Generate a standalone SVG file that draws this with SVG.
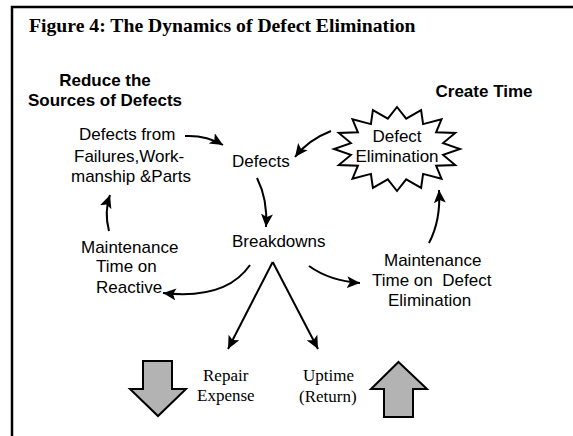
<svg xmlns="http://www.w3.org/2000/svg" width="573" height="436" viewBox="0 0 573 436">
<style>
.lbl{font-family:"Liberation Sans",Arial,sans-serif;font-size:17px;fill:#000}
.hdr{font-family:"Liberation Sans",Arial,sans-serif;font-size:17px;font-weight:bold;fill:#000}
.ser{font-family:"Liberation Serif","Times New Roman",serif;font-size:17px;fill:#000}
.con{fill:none;stroke:#000;stroke-width:2}
.blk{fill:#b3b3b3;stroke:#000;stroke-width:2;stroke-linejoin:miter}
</style>
<defs>
<marker id="ah" markerUnits="userSpaceOnUse" markerWidth="16" markerHeight="14" refX="13" refY="6" orient="auto">
<path d="M0,0 L13,6 L0,12 L3,6 z" fill="#000"/>
</marker>
</defs>
<rect width="573" height="436" fill="#fff"/>
<path d="M12,437 L12,7 L574,7" fill="none" stroke="#000" stroke-width="2.5"/>
<text x="29" y="32" font-family="Liberation Serif,'Times New Roman',serif" font-size="19.7" font-weight="bold">Figure 4: The Dynamics of Defect Elimination</text>

<g id="reduce-heading"><text class="hdr" x="105" y="86" text-anchor="middle">Reduce the</text><text class="hdr" x="105" y="106" text-anchor="middle">Sources of Defects</text></g>
<g id="create-heading"><text class="hdr" x="484" y="97" text-anchor="middle">Create Time</text></g>

<g id="defects-from"><text class="lbl" x="79" y="140">Defects from</text><text class="lbl" x="74" y="162">Failures,Work-</text><text class="lbl" x="71" y="182">manship &amp;Parts</text></g>
<g id="defects"><text class="lbl" x="232" y="167">Defects</text></g>
<g id="defect-elimination">
<polygon points="397,107 406.2,118.6 421.1,110.2 423.1,124.1 441.5,119.3 436.1,132.3 455.2,132.9 443.1,143.1 460,149 443.1,154.9 455.2,165.1 436.1,165.7 441.5,178.7 423.1,173.9 421.1,187.8 406.2,179.4 397,191 387.8,179.4 372.9,187.8 370.9,173.9 352.5,178.7 357.9,165.7 338.8,165.1 350.9,154.9 334,149 350.9,143.1 338.8,132.9 357.9,132.3 352.5,119.3 370.9,124.1 372.9,110.2 387.8,118.6" fill="#fff" stroke="#000" stroke-width="2"/>
<text class="lbl" x="397" y="142" text-anchor="middle">Defect</text><text class="lbl" x="397" y="162" text-anchor="middle">Elimination</text></g>
<g id="breakdowns"><text class="lbl" x="232" y="247">Breakdowns</text></g>
<g id="maint-reactive"><text class="lbl" x="81" y="253">Maintenance</text><text class="lbl" x="96" y="272">Time on</text><text class="lbl" x="96" y="293">Reactive</text></g>
<g id="maint-defect"><text class="lbl" x="384" y="266">Maintenance</text><text class="lbl" x="372" y="286">Time on&#160; Defect</text><text class="lbl" x="388" y="306">Elimination</text></g>
<g id="repair-expense"><text class="ser" x="203" y="381">Repair</text><text class="ser" x="197" y="401">Expense</text></g>
<g id="uptime"><text class="ser" x="303" y="381">Uptime</text><text class="ser" x="299" y="402">(Return)</text></g>
<g id="down-arrow"><polygon class="blk" points="143,361 172,361 172,389 186,389 158,416 130,389 143,389"/></g>
<g id="up-arrow"><polygon class="blk" points="398.5,362 427,389 413,389 413,417 384,417 384,389 371,389"/></g>

<g id="connectors">
<path class="con" d="M185,136 Q206,135 223,145" marker-end="url(#ah)"/>
<path class="con" d="M331,131 Q308,140 295,157" marker-end="url(#ah)"/>
<path class="con" d="M257,178 Q268,200 266,227" marker-end="url(#ah)"/>
<path class="con" d="M429,243 Q441,220 439,190" marker-end="url(#ah)"/>
<path class="con" d="M309,266 Q330,281 360,283" marker-end="url(#ah)"/>
<path class="con" d="M250,265 Q226,300 163,293" marker-end="url(#ah)"/>
<path class="con" d="M109,231 Q104,212 110,195" marker-end="url(#ah)"/>
<path class="con" d="M272.7,262 L228,349" marker-end="url(#ah)"/>
<path class="con" d="M272.7,262 L318,349" marker-end="url(#ah)"/>
</g>
</svg>
